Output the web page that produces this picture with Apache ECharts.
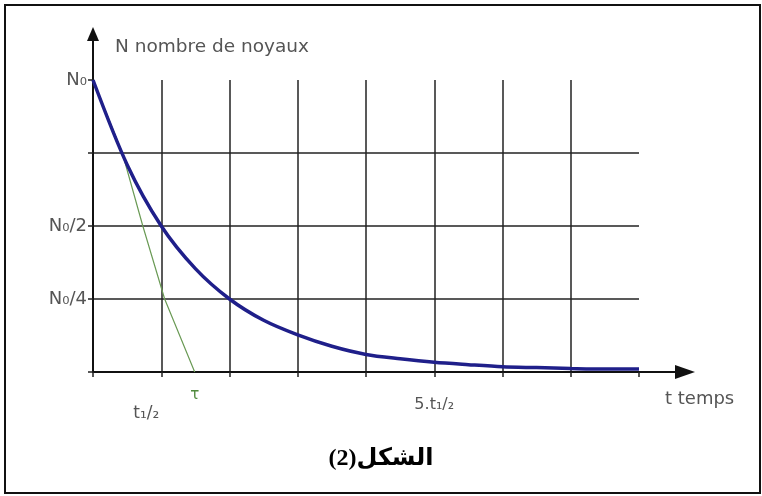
<!DOCTYPE html>
<html>
<head>
<meta charset="utf-8">
<script src="https://cdn.jsdelivr.net/npm/echarts@6/dist/echarts.min.js"></script>
<style>
  html, body { margin: 0; padding: 0; background: #fff; }
  #chart { width: 762px; height: 496px; }
  #frame {
    position: absolute; left: 4px; top: 4px; width: 753px; height: 486px;
    border: 2px solid #111; pointer-events: none;
  }
</style>
</head>
<body>
<div id="chart"></div>
<div id="frame"></div>
<script>
// N(t) / N0, t in units of t1/2
const decayT = [0, 0.5, 1, 1.5, 2, 2.5, 3, 3.5, 4, 4.5, 5, 5.5, 6, 6.5, 7, 7.5, 8]
const decayN = [1, 0.71, 0.5, 0.354, 0.25, 0.177, 0.127, 0.088, 0.06, 0.045, 0.033, 0.025, 0.018, 0.015, 0.012, 0.01, 0.01]
// tangent at origin, reaching zero at tau
const tangentT = [0, 0.43, 0.73, 1.05, 1.49]
const tangentN = [1, 0.75, 0.5, 0.25, 0]
const xTickLabels = { 1: 't₁/₂', 5: '5.t₁/₂' }
const yTickLabels = { 0.25: 'N₀/4', 0.5: 'N₀/2', 1: 'N₀' }

const gridColor = '#222'
const textColor = '#555'
const font = 'DejaVu Sans'

const chart = echarts.init(document.getElementById('chart'), null, { renderer: 'canvas' })

const tangentData = tangentT.map((t, i) => [t, tangentN[i]])
tangentData[tangentData.length - 1] = {
  value: tangentData[tangentData.length - 1],
  label: { show: true, formatter: 'τ', position: 'bottom', distance: 15, color: '#4f8a3c', fontSize: 15, fontFamily: font },
}

chart.setOption({
  animation: false,
  title: {
    text: '\u202Bالشكل(2)\u202C',
    left: 'center',
    top: 442,
    textStyle: { fontFamily: 'Liberation Serif, DejaVu Sans', fontWeight: 'bold', fontSize: 24, color: '#000' },
  },
  grid: [
    { left: 93, right: 123, top: 80, bottom: 124 },
    { left: 93, right: 77, top: 34, bottom: 124 },
  ],
  xAxis: [
    {
      type: 'value', gridIndex: 0, min: 0, max: 8, interval: 1,
      axisLine: { show: false },
      axisTick: { show: true, length: 5, lineStyle: { color: gridColor, width: 1.5 } },
      splitLine: { show: true, showMaxLine: false, lineStyle: { color: gridColor, width: 1.5 } },
      axisLabel: {
        margin: 25, color: textColor, fontFamily: font, fontSize: 16,
        formatter: (v) => (v === 1 ? '{h|' + xTickLabels[v] + '}' : (xTickLabels[v] || '')),
        rich: { h: { padding: [8, 30, 0, 0], color: textColor, fontFamily: font, fontSize: 17 } },
      },
    },
    {
      type: 'value', gridIndex: 1, min: 0, max: 1,
      axisLine: { show: true, symbol: ['none', 'triangle'], symbolSize: [14, 20], lineStyle: { color: '#111', width: 2 } },
      axisTick: { show: false }, axisLabel: { show: false }, splitLine: { show: false },
      name: 't temps', nameLocation: 'end', nameGap: -20,
      nameTextStyle: { color: textColor, fontFamily: font, fontSize: 18, align: 'left', verticalAlign: 'top', padding: [18, 0, 0, 0] },
    },
  ],
  yAxis: [
    {
      type: 'value', gridIndex: 0, min: 0, max: 1, interval: 0.25,
      axisLine: { show: false },
      axisTick: { show: true, length: 5, lineStyle: { color: gridColor, width: 1.5 } },
      splitLine: { show: true, showMaxLine: false, lineStyle: { color: gridColor, width: 1.5 } },
      axisLabel: { margin: 6, color: textColor, fontFamily: font, fontSize: 18, formatter: (v) => yTickLabels[v] || '' },
    },
    {
      type: 'value', gridIndex: 1, min: 0, max: 1,
      axisLine: { show: true, symbol: ['none', 'triangle'], symbolSize: [12, 14], lineStyle: { color: '#111', width: 2 } },
      axisTick: { show: false }, axisLabel: { show: false }, splitLine: { show: false },
      name: 'N nombre de noyaux', nameLocation: 'end', nameGap: -13,
      nameTextStyle: { color: textColor, fontFamily: font, fontSize: 18.5, align: 'left', verticalAlign: 'middle', padding: [0, 0, 0, 22] },
    },
  ],
  series: [
    {
      name: 'tangente', type: 'line', xAxisIndex: 0, yAxisIndex: 0,
      data: tangentData,
      showSymbol: true, symbol: 'circle', symbolSize: 1,
      itemStyle: { color: 'rgba(0,0,0,0)' },
      lineStyle: { color: '#6a9a55', width: 1.2 },
      z: 3,
    },
    {
      name: 'N', type: 'line', xAxisIndex: 0, yAxisIndex: 0,
      data: decayT.map((t, i) => [t, decayN[i]]),
      smooth: 0.3, showSymbol: false,
      lineStyle: { color: '#1f1f8a', width: 3.5 },
      z: 4,
    },
  ],
})
window.addEventListener('resize', () => chart.resize())
</script>
</body>
</html>
